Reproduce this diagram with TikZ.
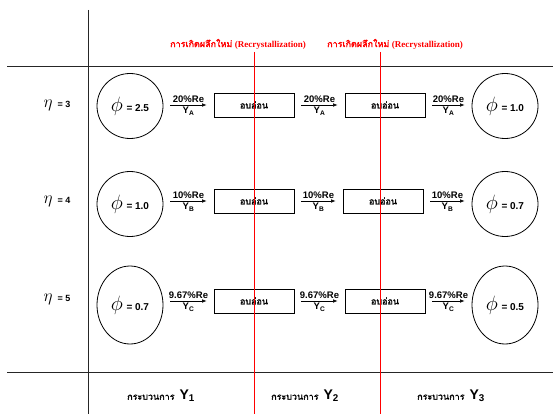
\documentclass[tikz,border=0pt]{standalone}
\usepackage{fontspec}
\setmainfont{Liberation Sans}
\newfontfamily\thai[Script=Thai,AutoFakeBold=2]{Loma}
\newfontfamily\tms{Liberation Serif}
\usetikzlibrary{shapes.geometric,arrows.meta}
\begin{document}
\begin{tikzpicture}[x=1pt,y=-1pt,
  phase/.style={ellipse,draw,line width=0.8pt,minimum width=66pt,minimum height=65pt,inner sep=0pt},
  tallphase/.style={phase,minimum height=78pt},
  anneal/.style={rectangle,draw,line width=0.8pt,minimum width=80pt,minimum height=24pt,inner sep=0pt,font=\thai\bfseries\fontsize{9}{10}\selectfont},
  arr/.style={-{Latex[length=4.5pt,width=3.5pt]},line width=0.6pt,shorten <=7pt,shorten >=7pt},
  up/.style={above,inner sep=1.8pt,font=\bfseries\fontsize{9.5}{10}\selectfont},
  dn/.style={below,inner sep=1.8pt,font=\bfseries\fontsize{9.5}{10}\selectfont},
  grid/.style={line width=0.9pt,black!85},
  rl/.style={line width=0.7pt,red},
  rtitle/.style={text=red,font=\fontsize{9}{10}\selectfont},
  etal/.style={font=\fontsize{9}{10}\selectfont\bfseries},
  proc/.style={font=\fontsize{9}{10}\selectfont}
]
\useasboundingbox (0,0) rectangle (553,414);
% grid lines
\coordinate (tl) at (7,66); \coordinate (tr) at (553,66);
\coordinate (bl) at (7,372); \coordinate (br) at (553,372);
\coordinate (vt) at (88,10); \coordinate (vb) at (88,414);
\draw[grid] (tl) -- (tr);
\draw[grid] (bl) -- (br);
\draw[grid] (vt) -- (vb);
% eta labels
\node[etal] (e1) at (57,105) {\fontsize{18}{18}\selectfont$\eta$\ \fontsize{9}{10}\selectfont = 3};
\node[etal] (e2) at (57,201) {\fontsize{18}{18}\selectfont$\eta$\ \fontsize{9}{10}\selectfont = 4};
\node[etal] (e3) at (57,299) {\fontsize{18}{18}\selectfont$\eta$\ \fontsize{9}{10}\selectfont = 5};
% row 1
\node[phase] (c11) at (130,106) {\fontsize{21}{21}\selectfont$\phi$\,\bfseries\fontsize{10}{12}\selectfont = 2.5};
\node[anneal] (r11) at (254,105) {อบอ่อน};
\node[anneal] (r12) at (385,105) {อบอ่อน};
\node[phase] (c12) at (505,106) {\fontsize{21}{21}\selectfont$\phi$\,\bfseries\fontsize{10}{12}\selectfont = 1.0};
\draw[arr] (c11.east |- r11.west) -- node[up]{20\%Re} node[dn]{Y\textsubscript{A}} (r11.west);
\draw[arr] (r11) -- node[up]{20\%Re} node[dn]{Y\textsubscript{A}} (r12);
\draw[arr] (r12.east) -- node[up]{20\%Re} node[dn]{Y\textsubscript{A}} (c12.west |- r12.east);
% row 2
\node[phase] (c21) at (130,204) {\fontsize{21}{21}\selectfont$\phi$\,\bfseries\fontsize{10}{12}\selectfont = 1.0};
\node[anneal] (r21) at (254,201) {อบอ่อน};
\node[anneal] (r22) at (383,201) {อบอ่อน};
\node[phase] (c22) at (505,204) {\fontsize{21}{21}\selectfont$\phi$\,\bfseries\fontsize{10}{12}\selectfont = 0.7};
\draw[arr] (c21.east |- r21.west) -- node[up]{10\%Re} node[dn]{Y\textsubscript{B}} (r21.west);
\draw[arr] (r21) -- node[up]{10\%Re} node[dn]{Y\textsubscript{B}} (r22);
\draw[arr] (r22.east) -- node[up]{10\%Re} node[dn]{Y\textsubscript{B}} (c22.west |- r22.east);
% row 3
\node[tallphase] (c31) at (130,305) {\fontsize{21}{21}\selectfont$\phi$\,\bfseries\fontsize{10}{12}\selectfont = 0.7};
\node[anneal] (r31) at (254,301) {อบอ่อน};
\node[anneal] (r32) at (385,301) {อบอ่อน};
\node[tallphase] (c32) at (505,305) {\fontsize{21}{21}\selectfont$\phi$\,\bfseries\fontsize{10}{12}\selectfont = 0.5};
\draw[arr] (c31.east |- r31.west) -- node[up]{9.67\%Re} node[dn]{Y\textsubscript{C}} (r31.west);
\draw[arr] (r31) -- node[up]{9.67\%Re} node[dn]{Y\textsubscript{C}} (r32);
\draw[arr] (r32.east) -- node[up]{9.67\%Re} node[dn]{Y\textsubscript{C}} (c32.west |- r32.east);
% red recrystallization lines
\coordinate (ra) at (254,52); \coordinate (rb) at (254,414);
\coordinate (rc) at (380,52); \coordinate (rd) at (380,414);
\draw[rl] (ra) -- (rb);
\draw[rl] (rc) -- (rd);
\node[rtitle] (t1) at (238,44) {{\thai\bfseries การเกิดผลึกใหม่} {\tms\bfseries (Recrystallization)}};
\node[rtitle] (t2) at (395,44) {{\thai\bfseries การเกิดผลึกใหม่} {\tms\bfseries (Recrystallization)}};
% process labels
\node[proc] (p1) at (161,396) {{\thai\bfseries กระบวนการ}\ \ {\bfseries\fontsize{14}{14}\selectfont Y\textsubscript{1}}};
\node[proc] (p2) at (305,396) {{\thai\bfseries กระบวนการ}\ \ {\bfseries\fontsize{14}{14}\selectfont Y\textsubscript{2}}};
\node[proc] (p3) at (451,396) {{\thai\bfseries กระบวนการ}\ \ {\bfseries\fontsize{14}{14}\selectfont Y\textsubscript{3}}};
\end{tikzpicture}
\end{document}
